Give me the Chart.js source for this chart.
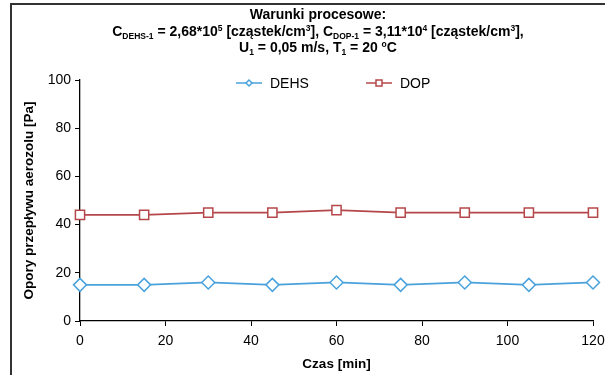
<!DOCTYPE html>
<html>
<head>
<meta charset="utf-8">
<script src="https://cdn.jsdelivr.net/npm/chart.js@4/dist/chart.umd.min.js"></script>
<style>
  html, body { margin: 0; padding: 0; background: #fff; }
  #wrap { width: 605px; height: 375px; position: relative; }
</style>
</head>
<body>
<div id="wrap"><canvas id="chart" width="605" height="375"></canvas></div>
<script>
'use strict';

// time points [min] and measured resistance [Pa]
const czas = [0, 15, 30, 45, 60, 75, 90, 105, 120];
const dehs = [15, 15, 16, 15, 16, 15, 16, 15, 16];
const dop = [44, 44, 45, 45, 46, 45, 45, 45, 45];
const seriesNames = ['DEHS', 'DOP'];

const FONT = '"Liberation Sans", Arial, sans-serif';

// title lines as runs: [text, 'n' | 'sub' | 'sup']
const titleLines = [
  [['Warunki procesowe:', 'n']],
  [['C', 'n'], ['DEHS-1', 'sub'], [' = 2,68*10', 'n'], ['5', 'sup'], [' [cząstek/cm', 'n'], ['3', 'sup'],
   ['], C', 'n'], ['DOP-1', 'sub'], [' = 3,11*10', 'n'], ['4', 'sup'], [' [cząstek/cm', 'n'], ['3', 'sup'], ['],', 'n']],
  [['U', 'n'], ['1', 'sub'], [' = 0,05 m/s, T', 'n'], ['1', 'sub'], [' = 20 ', 'n'], ['o', 'sup'], ['C', 'n']]
];

const frameAndTitle = {
  id: 'frameAndTitle',
  beforeDraw(chart) {
    const ctx = chart.ctx;
    ctx.save();
    ctx.strokeStyle = '#333';
    ctx.lineWidth = 2;
    ctx.beginPath();
    ctx.moveTo(605, 4);
    ctx.lineTo(11, 4);
    ctx.lineTo(11, 375);
    ctx.stroke();

    ctx.fillStyle = '#000';
    ctx.textBaseline = 'alphabetic';
    const baselines = [19, 36, 52];
    titleLines.forEach((runs, i) => {
      const fontOf = k => k === 'n' ? 'bold 14px ' + FONT : 'bold 8.5px ' + FONT;
      let total = 0;
      runs.forEach(([t, k]) => { ctx.font = fontOf(k); total += ctx.measureText(t).width; });
      let x = 318 - total / 2;
      runs.forEach(([t, k]) => {
        ctx.font = fontOf(k);
        const dy = k === 'sub' ? 3 : (k === 'sup' ? -5.5 : 0);
        ctx.fillText(t, x, baselines[i] + dy);
        x += ctx.measureText(t).width;
      });
    });
    ctx.restore();
  },
  afterDraw(chart) {
    // legend drawn inside the plot, near the top
    const ctx = chart.ctx;
    const spots = [236, 366];
    const y = 83;
    ctx.save();
    chart.data.datasets.forEach((ds, i) => {
      const x0 = spots[i];
      ctx.strokeStyle = ds.borderColor;
      ctx.lineWidth = 1.5;
      ctx.beginPath();
      ctx.moveTo(x0, y);
      ctx.lineTo(x0 + 26, y);
      ctx.stroke();
      ctx.fillStyle = '#fff';
      ctx.beginPath();
      const cx = x0 + 13;
      if (ds.pointStyle === 'rectRot') {
        ctx.moveTo(cx, y - 3); ctx.lineTo(cx + 3, y); ctx.lineTo(cx, y + 3); ctx.lineTo(cx - 3, y); ctx.closePath();
      } else {
        ctx.rect(cx - 3, y - 3, 6, 6);
      }
      ctx.fill();
      ctx.stroke();
      ctx.fillStyle = '#000';
      ctx.font = '14px ' + FONT;
      ctx.textBaseline = 'middle';
      ctx.fillText(ds.label, x0 + 34, y + 1);
    });
    ctx.restore();
  }
};

const toPoints = vals => czas.map((t, i) => ({ x: t, y: vals[i] }));

const data = {
  datasets: [{
    label: seriesNames[0],
    data: toPoints(dehs),
    borderColor: '#4aa2dc',
    backgroundColor: '#fff',
    borderWidth: 1.8,
    pointStyle: 'rectRot',
    pointRadius: 6.5,
    pointBorderWidth: 1.5,
    tension: 0,
    clip: false
  }, {
    label: seriesNames[1],
    data: toPoints(dop),
    borderColor: '#b5474a',
    backgroundColor: '#fff',
    borderWidth: 1.8,
    pointStyle: 'rect',
    pointRadius: 6.5,
    pointBorderWidth: 1.5,
    tension: 0,
    clip: false
  }]
};

const tickFont = { family: FONT, size: 14 };
const titleFont = { family: FONT, size: 13.5, weight: 'bold' };

const config = {
  type: 'line',
  data: data,
  options: {
    responsive: false,
    animation: false,
    layout: { padding: { left: 21, right: 0, top: 80, bottom: 0 } },
    plugins: {
      legend: { display: false },
      title: { display: false },
      tooltip: { enabled: false }
    },
    scales: {
      x: {
        type: 'linear',
        min: 0,
        max: 120,
        ticks: { stepSize: 20, color: '#000', font: tickFont, padding: 7 },
        grid: { drawOnChartArea: false, color: '#000', tickLength: 5 },
        border: { color: '#000', width: 1.3 },
        title: { display: true, text: 'Czas [min]', color: '#000', font: titleFont, padding: { top: 4, bottom: 3 } },
        afterFit: s => { s.height = 54; s.paddingRight = 12; s.paddingLeft = 0; }
      },
      y: {
        min: 0,
        max: 100,
        ticks: { stepSize: 20, color: '#000', font: tickFont, padding: 4 },
        grid: { drawOnChartArea: false, color: '#000', tickLength: 5 },
        border: { color: '#000', width: 1.3 },
        title: { display: true, text: 'Opory przepływu aerozolu [Pa]', color: '#000', font: titleFont, padding: { top: 0, bottom: 4 } },
        afterFit: s => { s.width = 59; }
      }
    }
  },
  plugins: [frameAndTitle]
};

new Chart(document.getElementById('chart'), config);
</script>
</body>
</html>
